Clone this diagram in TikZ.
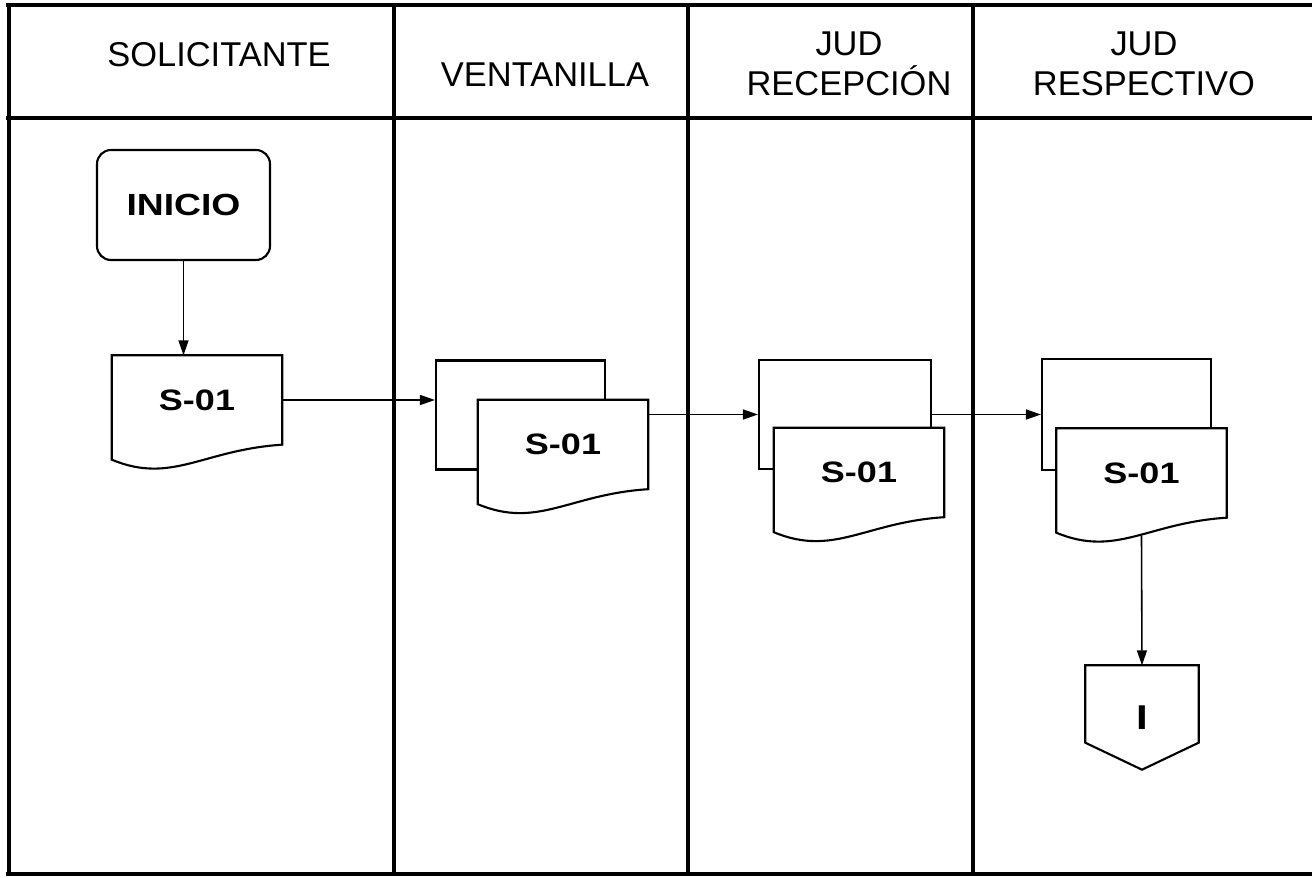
\documentclass[tikz,border=0pt]{standalone}
\usepackage{fontspec}
\setmainfont{Liberation Sans}
\newfontfamily\lblfont{Liberation Sans}[FakeStretch=1.22]
\usetikzlibrary{arrows.meta}

\begin{document}
\begin{tikzpicture}
\tikzset{lane/.style = {line width=1.4pt}}
\tikzset{head/.style = {align=center, font=\fontsize{9.8}{11.5}\selectfont}}
\tikzset{start/.style = {shape=rectangle, draw, line width=0.6pt, rounded corners=0.14cm, minimum width=1.73cm, minimum height=1.10cm, font=\lblfont\bfseries\fontsize{8.7}{10}\selectfont}}
\tikzset{sheet/.style = {shape=rectangle, draw, line width=0.6pt, minimum width=1.69cm, minimum height=1.09cm}}
\tikzset{doc/.style = {shape=rectangle, fill=white, inner sep=0pt, minimum width=1.69cm, minimum height=0.88cm, font=\lblfont\bfseries\fontsize{8.4}{10}\selectfont}}
\tikzset{offpage/.style = {shape=rectangle, inner sep=0pt, minimum width=1.12cm, minimum height=1.03cm, font=\lblfont\bfseries\fontsize{9.8}{10}\selectfont}}
\tikzset{outline/.style = {line width=0.6pt}}
\tikzset{edge/.style = {line width=0.45pt, -{Triangle[length=0.15cm,width=0.1cm]}}}
\useasboundingbox (0,0) rectangle (13.12,-8.78);
% lanes
\draw[lane] (0.06,-0.05) -- (13.12,-0.05);
\draw[lane] (0.06,-1.18) -- (13.12,-1.18);
\draw[lane] (0.06,-8.74) -- (13.12,-8.74);
\foreach \x in {0.09,3.94,6.88,9.73} \draw[lane] (\x,-0.05) -- (\x,-8.74);
\node[head] (h1) at (2.19,-0.55) {SOLICITANTE};
\node[head] (h2) at (5.45,-0.75) {VENTANILLA};
\node[head] (h3) at (8.49,-0.64) {JUD\\RECEPCIÓN};
\node[head] (h4) at (11.44,-0.64) {JUD\\RESPECTIVO};
% vertices
\node[start] (ini) at (1.835,-2.05) {INICIO};
\node[doc] (d1) at (1.97,-4.0) {S-01};
\node[sheet] (b2) at (5.205,-4.15) {};
\node[doc] (d2) at (5.63,-4.445) {S-01};
\node[sheet, minimum width=1.72cm] (b3) at (8.45,-4.145) {};
\node[doc] (d3) at (8.59,-4.725) {S-01};
\node[sheet, minimum height=1.11cm] (b4) at (11.265,-4.145) {};
\node[doc] (d4) at (11.415,-4.73) {S-01};
\node[offpage] (fin) at (11.42,-7.175) {I};
% outlines
\foreach \d in {d1,d2,d3,d4}
  \draw[outline] (\d.north west) -- (\d.north east) -- (\d.south east) .. controls +(-0.79,-0.05) and +(0.60,-0.25) .. ([yshift=-0.15cm]\d.south west) -- cycle;
\draw[outline] (fin.north west) -- (fin.north east) -- ([yshift=0.27cm]fin.south east) -- (fin.south) -- ([yshift=0.27cm]fin.south west) -- cycle;
%edges
\draw[edge] (ini.south) -- (ini.south |- d1.north);
\draw[edge] (d1.east) -- (d1.east -| b2.west);
\draw[edge] (d2.east |- b3.west) -- (b3.west);
\draw[edge] (b3.east) -- (b4.west);
\draw[edge] ([yshift=-0.18cm]d4.south) -- (fin.north);
\end{tikzpicture}
\end{document}
